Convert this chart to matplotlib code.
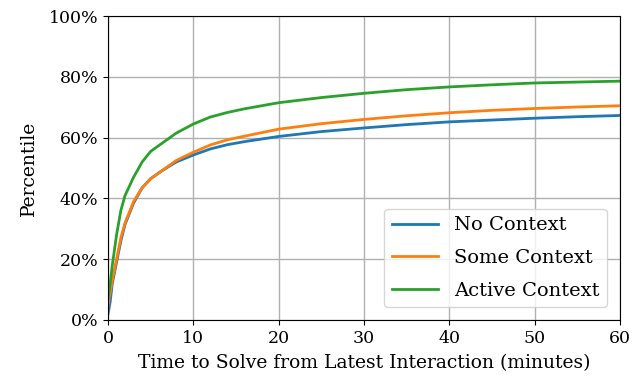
import matplotlib
matplotlib.use('Agg')
import matplotlib.pyplot as plt
from matplotlib.ticker import PercentFormatter

# minutes since latest interaction
minutes = [0, 0.25, 0.5, 1, 1.5, 2, 3, 4, 5, 6, 7, 8, 10, 12, 14, 16, 20, 25, 30, 35, 40, 45, 50, 55, 60]

# percentile solved (%)
no_context = [2, 6, 12, 19, 26, 31.5, 38.5, 43.5, 46.5, 48.5, 50.3, 52, 54.3, 56.3, 57.7, 58.7,
              60.4, 62, 63.2, 64.3, 65.2, 65.8, 66.4, 66.9, 67.3]
some_context = [5, 9, 13, 20, 27, 32, 39, 43.5, 46.5, 48.5, 50.5, 52.5, 55.2, 57.6, 59.3, 60.5,
                62.8, 64.6, 66.0, 67.2, 68.2, 69.0, 69.6, 70.1, 70.5]
active_context = [7, 12, 18, 28, 36, 41, 47, 52, 55.5, 57.5, 59.5, 61.5, 64.5, 66.8, 68.3, 69.5,
                  71.5, 73.2, 74.6, 75.8, 76.7, 77.4, 78.0, 78.3, 78.6]

plt.rcParams['font.family'] = ['DejaVu Serif']
plt.rcParams['font.size'] = 13.5

fig = plt.figure(figsize=(6.43, 3.84), dpi=100)
ax = fig.add_axes([0.168, 0.1667, 0.796, 0.7913])

ax.plot(minutes, no_context, color='#1f77b4', lw=2, label='No Context')
ax.plot(minutes, some_context, color='#ff7f0e', lw=2, label='Some Context')
ax.plot(minutes, active_context, color='#2ca02c', lw=2, label='Active Context')

ax.set_xlim(0, 60)
ax.set_ylim(0, 100)
ax.set_xticks(range(0, 61, 10))
ax.set_yticks(range(0, 101, 20))
ax.yaxis.set_major_formatter(PercentFormatter(decimals=0))
ax.tick_params(labelsize=12.5)
ax.grid(True, color='#b0b0b0', lw=1)
ax.set_axisbelow(True)

ax.set_xlabel('Time to Solve from Latest Interaction (minutes)', labelpad=5)
ax.set_ylabel('Percentile', labelpad=8)
ax.legend(loc='lower right', fontsize=14, handlelength=2.4, borderaxespad=0.65,
          labelspacing=0.75)

plt.savefig('out.png', dpi=100)
